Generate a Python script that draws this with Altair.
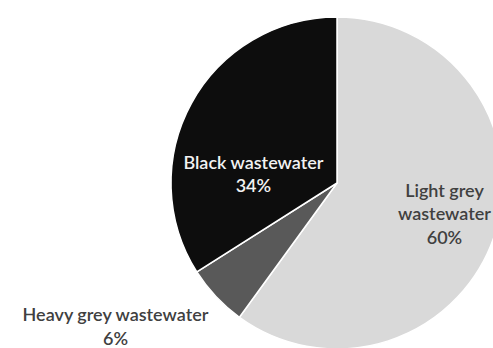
import math
import altair as alt
import pandas as pd

# Household wastewater split
categories = ["Light grey wastewater", "Heavy grey wastewater", "Black wastewater"]
shares = [60, 6, 34]
label_lines = [["Light grey", "wastewater"], ["Heavy grey wastewater"], ["Black wastewater"]]
slice_colors = ["#d9d9d9", "#595959", "#0d0d0d"]

df = pd.DataFrame({
    "category": categories,
    "share": shares,
    "rank": list(range(len(categories))),
    "name": ["\n".join(lines) for lines in label_lines],
})

CX, CY, R = 337, 183, 166
FONT = "Lato"

pie = alt.Chart(df).mark_arc(outerRadius=R, stroke="white", strokeWidth=1.5).encode(
    theta=alt.Theta("share:Q", stack=True),
    order=alt.Order("rank:O"),
    color=alt.Color("category:N", scale=alt.Scale(domain=categories, range=slice_colors), legend=None),
    x=alt.value(CX),
    y=alt.value(CY),
)

# Mid-angle of each slice (in percent of the full circle) for label placement
labelled = alt.Chart(df).transform_window(
    cum="sum(share)", sort=[alt.SortField("rank")]
).transform_calculate(
    mid="datum.cum - datum.share / 2",
    label="datum.name + '\\n' + datum.share + '%'",
)


def label_layer(cat, radius, color, dx=0, dy=0):
    return labelled.transform_filter(alt.datum.category == cat).mark_text(
        radius=radius, font=FONT, fontSize=18, fontWeight=600, lineBreak="\n", lineHeight=23.5,
        align="center", baseline="middle", color=color, dx=dx, dy=dy,
    ).encode(
        theta=alt.Theta("mid:Q", scale=alt.Scale(domain=[0, 100], range=[0, 2 * math.pi])),
        text="label:N",
        x=alt.value(CX),
        y=alt.value(CY),
    )


chart = alt.layer(
    pie,
    label_layer("Light grey wastewater", 113, "#404040", dy=-26),
    label_layer("Black wastewater", 84, "#f2f2f2", dx=-10, dy=21),
    label_layer("Heavy grey wastewater", 212, "#404040", dx=-67, dy=-12),
).properties(
    width=493, height=348, autosize=alt.AutoSizeParams(type="none"), padding=0,
).configure_view(stroke=None)

chart.save("out.html", embed_options={"renderer": "svg", "actions": False})
